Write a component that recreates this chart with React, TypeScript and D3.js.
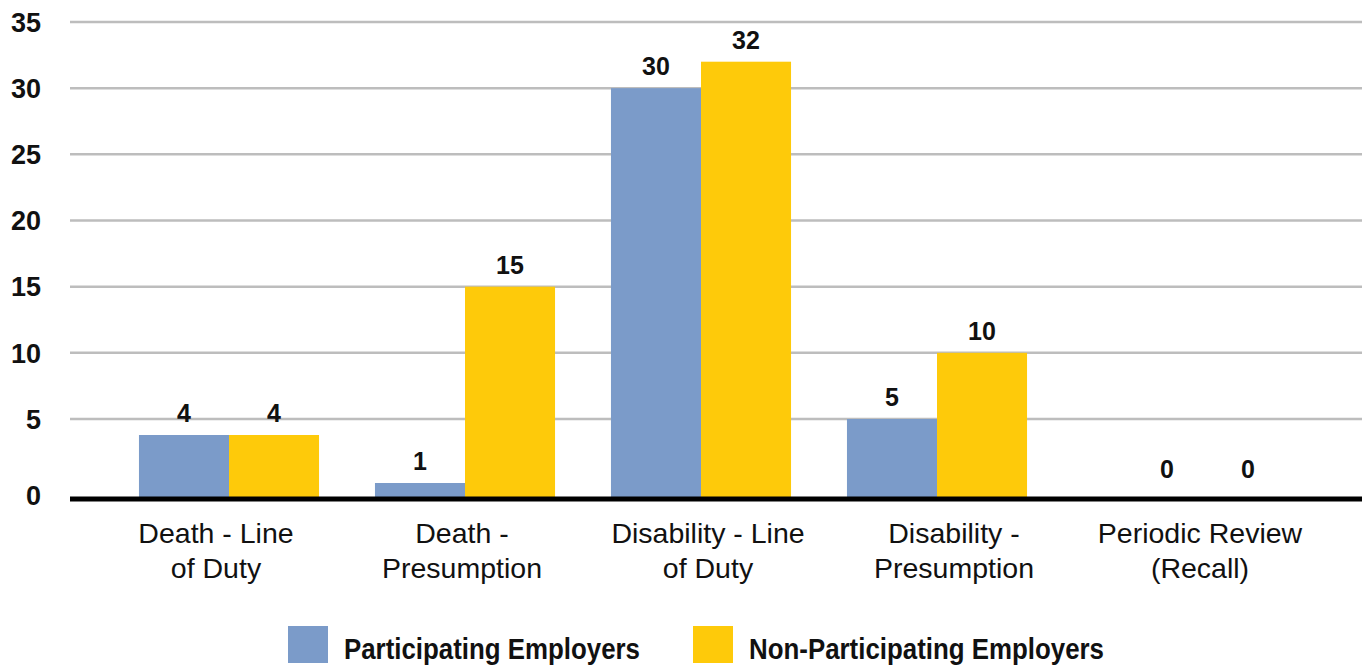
import React from "react";
import * as d3 from "d3";

const categories = [
  ["Death - Line", "of Duty"],
  ["Death -", "Presumption"],
  ["Disability - Line", "of Duty"],
  ["Disability -", "Presumption"],
  ["Periodic Review", "(Recall)"],
];
const categoryKeys = ["dlod", "dp", "dislod", "disp", "pr"];
const seriesNames = ["Participating Employers", "Non-Participating Employers"];
const participating = [4, 1, 30, 5, 0];
const nonParticipating = [4, 15, 32, 10, 0];
const yTicks = [0, 5, 10, 15, 20, 25, 30, 35];

const W = 1369;
const H = 667;
const colors = ["#7B9BC9", "#FECA0A"];

export default function App() {
  const y = d3.scaleLinear().domain([0, 5, 35]).range([499, 419, 22]);
  const x0 = d3
    .scaleBand<string>()
    .domain(categoryKeys)
    .range([111, 1291])
    .paddingInner(0.237)
    .paddingOuter(0.1185);
  const x1 = d3.scaleBand<number>().domain([0, 1]).range([0, x0.bandwidth()]);
  const xLabel = d3.scalePoint<string>().domain(categoryKeys).range([216, 1200]);
  const series = [participating, nonParticipating];
  const gridX0 = 70;
  const gridX1 = 1362;

  return (
    <svg width={W} height={H} style={{ position: "absolute", left: 0, top: 0, background: "#fff" }}>
      <rect x={0} y={0} width={W} height={H} fill="#fff" />
      {yTicks.map((t) => (
        <g key={t}>
          {t !== 0 && (
            <line x1={gridX0} x2={gridX1} y1={y(t)} y2={y(t)} stroke="#BDBDBD" strokeWidth={2.5} />
          )}
          <text
            x={41}
            y={t === 0 ? y(t) - 4 : y(t)}
            dy="0.36em"
            textAnchor="end"
            fontFamily="'Liberation Sans', Arial, sans-serif"
            fontWeight="bold"
            fontSize={27}
            fill="#111"
          >
            {t}
          </text>
        </g>
      ))}
      {categoryKeys.map((k, i) =>
        series.map((vals, s) => {
          const v = vals[i];
          const bx = (x0(k) ?? 0) + (x1(s) ?? 0);
          const bw = x1.bandwidth();
          return (
            <g key={k + s}>
              {v > 0 && <rect x={bx} y={y(v)} width={bw} height={y(0) - y(v)} fill={colors[s]} />}
              <text
                x={bx + bw / 2 + (v === 0 ? (s === 0 ? 39 : 30) : 0)}
                y={y(v) - (v === 0 ? 21 : 13)}
                textAnchor="middle"
                fontFamily="'Liberation Sans', Arial, sans-serif"
                fontWeight="bold"
                fontSize={25}
                fill="#111"
              >
                {v}
              </text>
            </g>
          );
        })
      )}
      <line x1={gridX0} x2={gridX1} y1={y(0)} y2={y(0)} stroke="#000" strokeWidth={5} />
      {categoryKeys.map((k, i) => (
        <text
          key={k}
          x={xLabel(k)}
          textAnchor="middle"
          fontFamily="'Liberation Sans', Arial, sans-serif"
          fontSize={28.5}
          fill="#111"
        >
          <tspan x={xLabel(k)} y={543}>
            {categories[i][0]}
          </tspan>
          <tspan x={xLabel(k)} y={578}>
            {categories[i][1]}
          </tspan>
        </text>
      ))}
      {seriesNames.map((n, i) => {
        const lx = i === 0 ? 288 : 693;
        const tl = i === 0 ? 296 : 355;
        return (
          <g key={n}>
            <rect x={lx} y={626} width={40} height={37} fill={colors[i]} />
            <text
              x={lx + 56}
              y={659}
              fontFamily="'Liberation Sans Narrow', 'Arial Narrow', 'Liberation Sans', sans-serif"
              fontWeight="bold"
              fontSize={29}
              fill="#111"
              textLength={tl}
              lengthAdjust="spacingAndGlyphs"
            >
              {n}
            </text>
          </g>
        );
      })}
    </svg>
  );
}
